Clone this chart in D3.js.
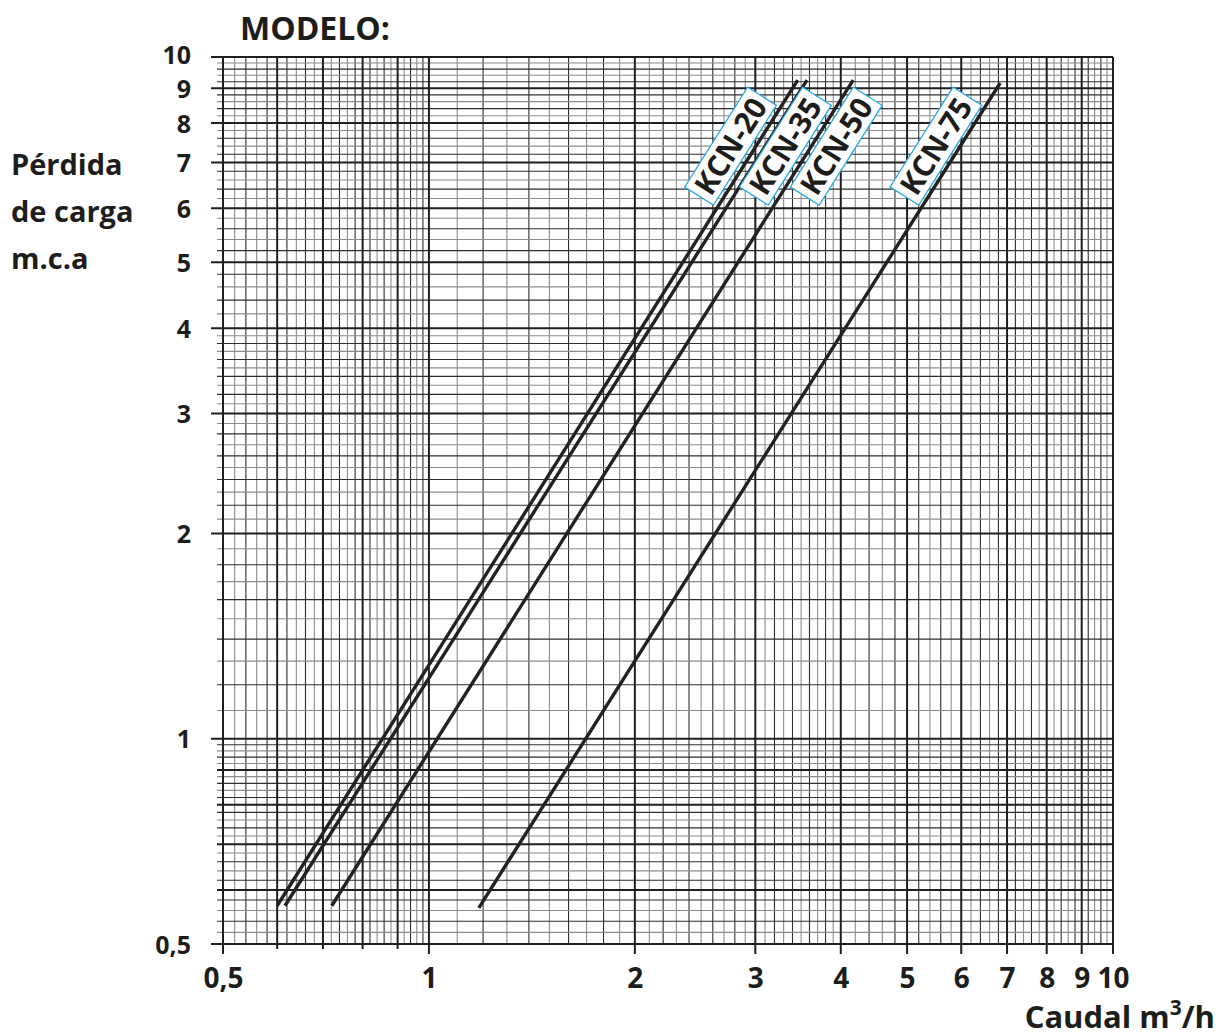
<!DOCTYPE html>
<html>
<head>
<meta charset="utf-8">
<script src="https://cdn.jsdelivr.net/npm/d3@7"></script>
<style>
    body { margin: 0; background: #fff; }
    text { font-family: "Open Sans", sans-serif; font-weight: 700; fill: #1d1d1b; }
</style>
</head>
<body>
<svg id="chart" width="1219" height="1036"></svg>
<script>
    // curves (straight lines on log-log paper)
    var models = ["KCN-20", "KCN-35", "KCN-50", "KCN-75"];
    var flowStart = [0.60, 0.616, 0.721, 1.183];
    var lossStart = [0.569, 0.569, 0.569, 0.565];
    var flowEnd = [3.46, 3.57, 4.17, 6.84];
    var lossEnd = [9.25, 9.25, 9.25, 9.16];
    var labelFlow = [2.76, 3.32, 3.94, 5.51];
    var labelLoss = 7.4;

    var xTicks = [0.5, 1, 2, 3, 4, 5, 6, 7, 8, 9, 10];
    var xTickText = ["0,5", "1", "2", "3", "4", "5", "6", "7", "8", "9", "10"];
    var yTicks = [0.5, 1, 2, 3, 4, 5, 6, 7, 8, 9, 10];
    var yTickText = ["0,5", "1", "2", "3", "4", "5", "6", "7", "8", "9", "10"];

    var svg = d3.select("#chart");
    var x = d3.scaleLog().domain([0.5, 10]).range([223, 1113]);
    var y = d3.scaleLog().domain([0.5, 10]).range([944, 57]);

    // grid lines of the log paper: [from, to, step]
    var xSteps = [[0.5, 1, 0.02], [1, 4, 0.1], [4, 10, 0.2]];
    var ySteps = [[0.5, 1, 0.02], [1, 4, 0.1], [4, 10, 0.2]];
    var majorX = [0.5, 0.6, 0.7, 0.8, 0.9, 1, 2, 3, 4, 5, 6, 7, 8, 9, 10];
    var majorY = [0.5, 0.6, 0.7, 0.8, 0.9, 1, 2, 3, 4, 5, 6, 7, 8, 9, 10];

    function minorLines(steps, majors) {
        var out = [];
        steps.forEach(function(s) {
            var n = Math.round((s[1] - s[0]) / s[2]);
            for (var i = 1; i < n; i++) {
                var v = +(s[0] + i * s[2]).toFixed(3);
                if (majors.some(function(m) { return Math.abs(m - v) < 1e-6; })) continue;
                out.push({ v: v, light: i % 2 === 1 });
            }
        });
        return out;
    }

    var grid = svg.append("g").attr("class", "grid");

    grid.selectAll("line.mx")
        .data(minorLines(xSteps, majorX))
        .enter().append("line")
        .attr("x1", function(d) { return x(d.v); })
        .attr("x2", function(d) { return x(d.v); })
        .attr("y1", y(0.5)).attr("y2", y(10))
        .style("stroke", function(d) { return d.light ? "#8c8c8c" : "#2e2e2e"; })
        .style("stroke-width", 1.1);

    grid.selectAll("line.my")
        .data(minorLines(ySteps, majorY))
        .enter().append("line")
        .attr("y1", function(d) { return y(d.v); })
        .attr("y2", function(d) { return y(d.v); })
        .attr("x1", x(0.5) - 6).attr("x2", x(10))
        .style("stroke", function(d) { return d.light ? "#8c8c8c" : "#2e2e2e"; })
        .style("stroke-width", 1.1);

    grid.selectAll("line.Mx")
        .data(majorX)
        .enter().append("line")
        .attr("x1", function(d) { return x(d); })
        .attr("x2", function(d) { return x(d); })
        .attr("y1", function(d) { return y(0.5) + (xTicks.indexOf(d) >= 0 ? 10 : 5); })
        .attr("y2", y(10))
        .style("stroke", "#1f1f1f")
        .style("stroke-width", 2);

    grid.selectAll("line.My")
        .data(majorY)
        .enter().append("line")
        .attr("y1", function(d) { return y(d); })
        .attr("y2", function(d) { return y(d); })
        .attr("x1", function(d) { return x(0.5) - (yTicks.indexOf(d) >= 0 ? 12 : 6); })
        .attr("x2", x(10))
        .style("stroke", "#1f1f1f")
        .style("stroke-width", 2);

    // tick labels
    var xAxis = d3.axisBottom(x).tickValues(xTicks).tickSize(0).tickPadding(0)
        .tickFormat(function(d, i) { return xTickText[i]; });
    var gx = svg.append("g").attr("transform", "translate(0," + (y(0.5) + 44) + ")").call(xAxis);
    gx.select(".domain").remove();
    gx.selectAll("text").attr("dy", 0).style("font-size", "28px")
        .style("font-family", '"Open Sans", sans-serif').style("font-weight", 700);

    var yAxis = d3.axisLeft(y).tickValues(yTicks).tickSize(0).tickPadding(0)
        .tickFormat(function(d, i) { return yTickText[i]; });
    var gy = svg.append("g").attr("transform", "translate(191,0)").call(yAxis);
    gy.select(".domain").remove();
    gy.selectAll("text").attr("dy", "0.36em").style("font-size", "25px")
        .style("font-family", '"Open Sans", sans-serif').style("font-weight", 700);
    // the top two labels sit very close, lift "10" a touch
    gy.selectAll(".tick").filter(function(d) { return d === 10; })
        .select("text").attr("y", -3);

    // curves
    var line = d3.line().x(function(d) { return x(d[0]); }).y(function(d) { return y(d[1]); });
    svg.append("g").selectAll("path")
        .data(models)
        .enter().append("path")
        .attr("d", function(d, i) { return line([[flowStart[i], lossStart[i]], [flowEnd[i], lossEnd[i]]]); })
        .style("fill", "none")
        .style("stroke", "#222")
        .style("stroke-width", 3.4);

    // model labels, turned along the curves
    var labels = svg.append("g").selectAll("g")
        .data(models)
        .enter().append("g")
        .attr("transform", function(d, i) {
            var a = Math.atan2(y(lossEnd[i]) - y(lossStart[i]), x(flowEnd[i]) - x(flowStart[i])) * 180 / Math.PI;
            return "translate(" + x(labelFlow[i]) + "," + y(labelLoss) + ") rotate(" + a + ")";
        });
    labels.append("rect")
        .attr("x", -59).attr("y", -17).attr("width", 118).attr("height", 34)
        .style("fill", "#fff").style("stroke", "#29a9e1").style("stroke-width", 1.3);
    labels.append("text")
        .attr("text-anchor", "middle").attr("dy", "0.36em")
        .style("font-size", "30px")
        .text(function(d) { return d; });

    // titles
    svg.append("text").attr("x", 240).attr("y", 40).style("font-size", "32px").text("MODELO:");
    var yt = svg.append("text").attr("x", 11).style("font-size", "29px");
    ["Pérdida", "de carga", "m.c.a"].forEach(function(t, i) {
        yt.append("tspan").attr("x", 11).attr("y", 175 + i * 47).text(t);
    });
    var xt = svg.append("text").attr("x", 1215).attr("y", 1028).attr("text-anchor", "end").style("font-size", "31px");
    xt.append("tspan").text("Caudal m");
    xt.append("tspan").attr("dy", -13).style("font-size", "21px").text("3");
    xt.append("tspan").attr("dy", 13).text("/h");
</script>
</body>
</html>
